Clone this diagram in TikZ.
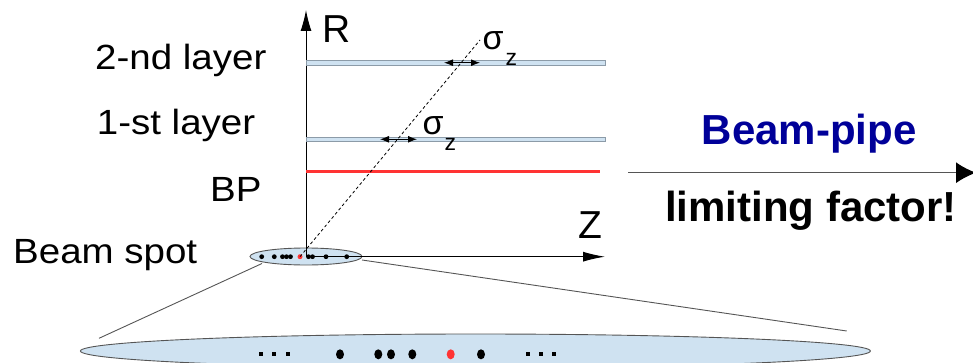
\documentclass[tikz,border=0pt]{standalone}
\usepackage{fontspec}
\setmainfont{Liberation Sans}[FakeStretch=1.1]
\newfontfamily\plainsf{Liberation Sans}
\usetikzlibrary{arrows.meta,shapes.geometric}
\definecolor{layerfill}{HTML}{CFE2F1}
\definecolor{layeredge}{HTML}{8C9BA8}
\definecolor{bpred}{HTML}{FF3333}
\definecolor{navy}{HTML}{000099}
\definecolor{wire}{HTML}{555555}
\begin{document}
\begin{tikzpicture}[x=1pt,y=-1pt,
  lbl/.style={anchor=base west,inner sep=0pt,font=\fontsize{35}{40}\selectfont},
  axislbl/.style={anchor=base west,inner sep=0pt,font=\plainsf\fontsize{39}{44}\selectfont},
  boldlbl/.style={anchor=base west,inner sep=0pt,font=\plainsf\bfseries\fontsize{42}{48}\selectfont},
  layer/.style={draw=layeredge,fill=layerfill,line width=0.9pt},
  spotell/.style={ellipse,draw=wire,fill=layerfill,line width=0.9pt,inner sep=0pt},
  axis/.style={line width=1pt,-{Latex[length=21pt,width=11pt]}},
  zoomline/.style={wire,line width=0.9pt},
  sigarrow/.style={line width=1pt,{Latex[length=9pt,width=7pt]}-{Latex[length=9pt,width=7pt]}},
  track/.style={line width=0.8pt,dash pattern=on 3pt off 2.5pt}]
\useasboundingbox (0,0) rectangle (973,363);
\clip (0,0) rectangle (973,363);

% magnified view of the luminous region
\node[spotell,minimum width=790pt,minimum height=34pt] (bigspot) at (475.4,351) {};
\foreach \x in {261,274,288,527.7,541,554.3}
  \fill (\x-2,352.3) rectangle (\x+2,356.3);
\foreach \x in {340,378.3,391,412.3,481}
  \fill (\x,354.3) ellipse [x radius=4pt,y radius=5pt];
\fill[bpred] (450.7,354.3) ellipse [x radius=4pt,y radius=5pt];

% beam spot at the origin
\node[spotell,minimum width=112pt,minimum height=17pt] (spot) at (306,256.5) {};
\coordinate (pv) at (300,256.7);
\foreach \x in {261.7,274.3,282.5,286.5,290.5,308.5,312.5,326,346.7}
  \fill (\x,256.7) circle [radius=2.4pt];
\fill[bpred] (pv) circle [radius=2.5pt];

% zoom guide lines
\coordinate (zl) at (99,338.3);
\coordinate (zr) at (846.7,331);
\draw[zoomline] (262,263.5) -- (zl);
\draw[zoomline] (362,260) -- (zr);

% axes
\coordinate (orig) at (306,256.7);
\coordinate (rtop) at (306,10);
\coordinate (zend) at (605,256.7);
\draw[axis] (orig) -- (rtop);
\draw[axis,-{Latex[length=22pt,width=10pt]}] (orig) -- (zend);
\node[axislbl] (rl) at (322.5,43) {R};
\node[axislbl] (zl2) at (578,238.3) {Z};

% detector layers and beam pipe
\draw[layer] (306,60.7) rectangle (605,65);
\draw[layer] (306,137.3) rectangle (605,141.7);
\draw[bpred,line width=3pt] (306,171.7) -- (600,171.7);

% track from the vertex and the z-resolution marks
\coordinate (trk) at (480,40);
\draw[track] (pv) -- (trk);
\draw[sigarrow] (444,62.7) -- (480,62.7);
\draw[sigarrow] (380,139.3) -- (417,139.3);
\node[anchor=base west,inner sep=0pt,font=\plainsf\fontsize{34}{38}\selectfont] (s2) at (482.5,50) {σ};
\node[anchor=base west,inner sep=0pt,font=\plainsf\fontsize{23}{26}\selectfont] (z2) at (505.5,65.7) {z};
\node[anchor=base west,inner sep=0pt,font=\plainsf\fontsize{34}{38}\selectfont] (s1) at (422.5,135) {σ};
\node[anchor=base west,inner sep=0pt,font=\plainsf\fontsize{23}{26}\selectfont] (z1) at (444.5,150.7) {z};

% labels on the left
\node[lbl] (l2) at (95,70) {2-nd layer};
\node[lbl] (l1) at (96.7,135) {1-st layer};
\node[lbl] (lbp) at (210,201.7) {BP};
\node[lbl] (lbs) at (13,263.3) {Beam spot};

% conclusion arrow
\coordinate (ca) at (628.3,172.7);
\coordinate (cb) at (976,172.7);
\draw[wire,line width=1.2pt,-{Latex[length=20pt,width=21pt,color=black,fill=black]}] (ca) -- (cb);
\node[boldlbl,text=navy] (bp) at (701.7,145) {Beam-pipe};
\node[boldlbl] (lf) at (665,221.7) {limiting factor!};
\end{tikzpicture}
\end{document}
